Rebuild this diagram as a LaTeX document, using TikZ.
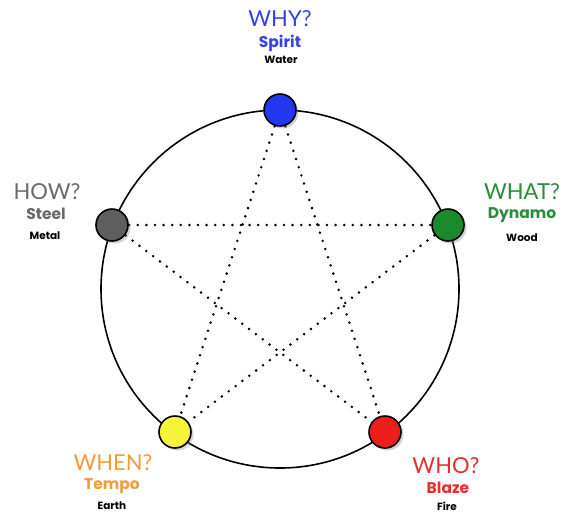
\documentclass[tikz,border=0pt]{standalone}
\usepackage{fontspec}
\setmainfont{Lato}
\newfontfamily\boldlab{Poppins}
\usetikzlibrary{shadows}
\definecolor{cblue}{HTML}{2437F0}
\definecolor{cgreen}{HTML}{1B8A2C}
\definecolor{cgray}{HTML}{5E5E5E}
\definecolor{cyellow}{HTML}{F6F43A}
\definecolor{cred}{HTML}{EE1E1A}
\definecolor{tblue}{HTML}{3342E6}
\definecolor{tgreen}{HTML}{2A8C3A}
\definecolor{tgray}{HTML}{6A6A6A}
\definecolor{torange}{HTML}{F39A3C}
\definecolor{tred}{HTML}{E4302E}
\tikzset{
  elem/.style={circle, draw=black, line width=1.6pt, minimum size=32pt, inner sep=0pt,
    drop shadow={shadow xshift=2.5pt, shadow yshift=-2.5pt, opacity=0.35}},
  qtext/.style={font=\fontsize{22}{22}\selectfont, inner sep=0pt},
  ntext/.style={font=\boldlab\bfseries\fontsize{15.5}{15.5}\selectfont, inner sep=0pt},
  etext/.style={font=\boldlab\bfseries\fontsize{10.5}{10.5}\selectfont, inner sep=0pt, text=black},
  star/.style={line width=2.8pt, dash pattern=on 0pt off 8.6pt, line cap=round}
}
\begin{document}
\begin{tikzpicture}[x=1pt,y=-1pt]
\useasboundingbox (0,0) rectangle (568,515);
\node[circle, draw=black, line width=1.6pt, minimum size=358pt, inner sep=0pt] (ring) at (280,289) {};
\coordinate (cwater) at (280,110);
\coordinate (cwood) at (448,225);
\coordinate (cfire) at (385,432);
\coordinate (cearth) at (175,432);
\coordinate (cmetal) at (112,225);
\draw[star] (cwater) -- (cearth);
\draw[star] (cwater) -- (cfire);
\draw[star] (cmetal) -- (cwood);
\draw[star] (cmetal) -- (cfire);
\draw[star] (cwood) -- (cearth);
\node[elem, fill=cblue] (water) at (cwater) {};
\node[elem, fill=cgreen] (wood) at (cwood) {};
\node[elem, fill=cred] (fire) at (cfire) {};
\node[elem, fill=cyellow] (earth) at (cearth) {};
\node[elem, fill=cgray] (metal) at (cmetal) {};
% labels
\node[qtext, text=tblue] (why) at (280,19) {WHY?};
\node[ntext, text=tblue] (spirit) at (280,43) {Spirit};
\node[etext] (waterl) at (281,60) {Water};
\node[qtext, text=tgray] (how) at (47,192) {HOW?};
\node[ntext, text=tgray] (steel) at (46,214) {Steel};
\node[etext] (metall) at (45,236) {Metal};
\node[qtext, text=tgreen] (what) at (522,192) {WHAT?};
\node[ntext, text=tgreen] (dynamo) at (522,215) {Dynamo};
\node[etext] (woodl) at (522,238) {Wood};
\node[qtext, text=torange] (when) at (113,463) {WHEN?};
\node[ntext, text=torange] (tempo) at (112,486) {Tempo};
\node[etext] (earthl) at (112,506) {Earth};
\node[qtext, text=tred] (who) at (446,466) {WHO?};
\node[ntext, text=tred] (blaze) at (448,488) {Blaze};
\node[etext] (firel) at (447,506) {Fire};
\end{tikzpicture}
\end{document}
